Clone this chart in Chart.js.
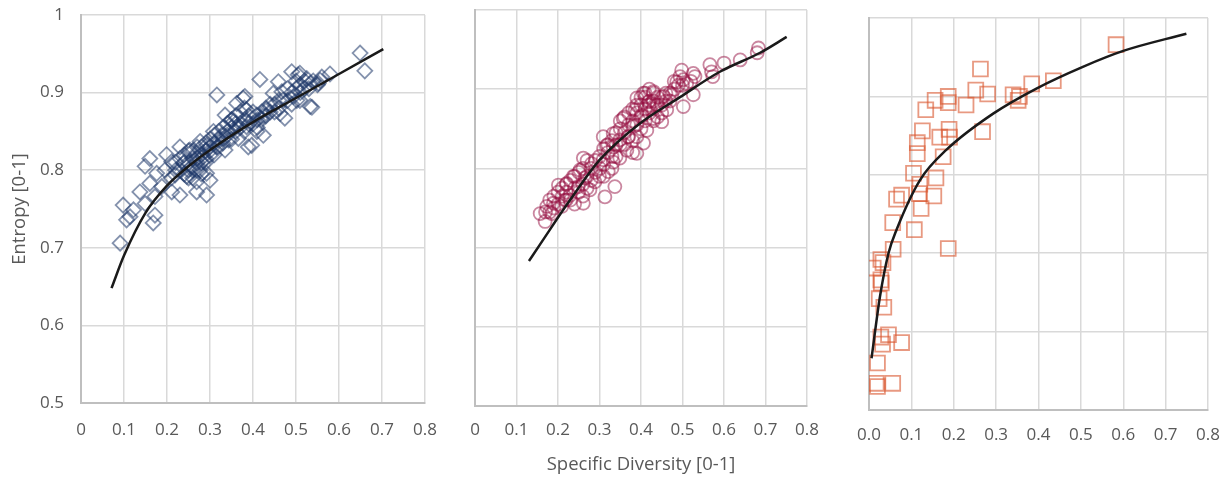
<!DOCTYPE html>
<html>
<head>
<meta charset="utf-8">
<script src="https://cdn.jsdelivr.net/npm/chart.js@4.4.1/dist/chart.umd.min.js"></script>
<style>
body{margin:0;background:#fff;width:1226px;height:478px;overflow:hidden;position:relative;}
.box{position:absolute;top:0;height:478px;}
</style>
</head>
<body>
<div class="box" style="left:0;width:445px"><canvas id="c1"></canvas></div>
<div class="box" style="left:445px;width:390px"><canvas id="c2"></canvas></div>
<div class="box" style="left:835px;width:391px"><canvas id="c3"></canvas></div>
<script>
// tick labels
var xLabelsA = ['0','0.1','0.2','0.3','0.4','0.5','0.6','0.7','0.8'];
var xLabelsB = ['0.0','0.1','0.2','0.3','0.4','0.5','0.6','0.7','0.8'];
var yLabels = ['0.5','0.6','0.7','0.8','0.9','1'];

// left panel - diamonds
var p1X = [0.649,0.660,0.579,0.556,0.537,0.533,0.490,0.505,0.502,0.525,0.474,0.459,0.416,0.316,0.509,0.552,
  0.381,0.362,0.447,0.467,0.494,0.509,0.533,0.385,0.409,0.432,0.463,0.335,0.350,0.362,0.385,0.409,0.424,0.397,
  0.308,0.327,0.343,0.366,0.277,0.292,0.316,0.335,0.230,0.253,0.269,0.284,0.300,0.199,0.160,0.149,0.211,0.238,
  0.257,0.277,0.292,0.176,0.195,0.219,0.246,0.269,0.300,0.160,0.137,0.188,0.211,0.230,0.269,0.292,0.172,0.149,
  0.098,0.122,0.114,0.172,0.168,0.106,0.091,0.389,0.377,0.424,
  0.25,0.26,0.27,0.28,0.29,0.30,0.31,0.32,0.33,0.34,0.35,0.36,0.37,0.38,0.39,0.40,0.41,0.42,0.43,0.44,0.45,
  0.46,0.48,0.49,0.50,0.51,0.52,0.53,0.55,0.26,0.28,0.29,0.24,0.22,0.25,0.27,
  0.21,0.22,0.23,0.23,0.24,0.24,0.25,0.25,0.26,0.26,0.27,0.27,0.28,0.28,0.29,0.29,0.30,0.30,0.31,0.31,0.32,
  0.32,0.33,0.33,0.34,0.34,0.35,0.35,0.36,0.36,0.37,0.37,0.38,0.38,0.39,0.40,0.41,0.42,0.43,0.44,0.45,0.46,
  0.47,0.48,0.49,0.50,0.51,0.52,0.54,0.56];
var p1Y = [0.951,0.928,0.924,0.916,0.881,0.912,0.927,0.923,0.890,0.918,0.867,0.914,0.917,0.897,0.925,0.912,
  0.895,0.886,0.899,0.901,0.895,0.890,0.882,0.878,0.871,0.878,0.873,0.871,0.865,0.856,0.856,0.850,0.845,0.832,
  0.850,0.845,0.839,0.841,0.837,0.832,0.830,0.826,0.830,0.826,0.822,0.817,0.819,0.820,0.815,0.805,0.811,0.809,
  0.805,0.800,0.796,0.796,0.800,0.794,0.792,0.785,0.787,0.783,0.772,0.779,0.772,0.768,0.772,0.768,0.766,0.757,
  0.755,0.749,0.740,0.742,0.732,0.736,0.706,0.830,0.893,0.870,
  0.800,0.815,0.810,0.820,0.825,0.830,0.835,0.840,0.840,0.850,0.855,0.860,0.860,0.865,0.870,0.860,0.865,0.875,
  0.880,0.875,0.885,0.890,0.890,0.900,0.905,0.910,0.915,0.905,0.910,0.790,0.795,0.810,0.810,0.800,0.825,0.830,
  0.790,0.810,0.800,0.815,0.795,0.820,0.810,0.790,0.800,0.825,0.815,0.800,0.810,0.830,0.815,0.835,0.825,0.840,
  0.820,0.845,0.830,0.850,0.835,0.855,0.845,0.860,0.840,0.865,0.850,0.870,0.855,0.875,0.850,0.880,0.860,0.875,
  0.855,0.865,0.870,0.885,0.875,0.880,0.890,0.905,0.885,0.915,0.900,0.905,0.915,0.920];
var fit1X = [0.071,0.10,0.15,0.20,0.25,0.30,0.40,0.50,0.60,0.703];
var fit1Y = [0.648,0.690,0.745,0.780,0.805,0.826,0.862,0.893,0.924,0.956];

// middle panel - circles
var p2X = [0.683,0.680,0.639,0.600,0.566,0.570,0.573,0.530,0.498,0.494,0.510,0.486,0.526,0.474,0.502,0.454,
  0.430,0.406,0.390,0.418,0.438,0.462,0.386,0.402,0.430,0.450,0.357,0.382,0.414,0.309,0.333,0.349,0.369,0.406,
  0.390,0.366,0.333,0.317,0.349,0.333,0.309,0.261,0.281,0.301,0.321,0.253,0.237,0.265,0.289,0.337,0.221,0.249,
  0.277,0.201,0.229,0.261,0.313,0.189,0.209,0.173,0.157,0.185,0.169,0.217,0.502,0.526,
  0.38,0.39,0.40,0.41,0.42,0.43,0.44,0.45,0.46,0.47,0.48,0.49,0.41,0.42,0.43,0.35,0.36,0.37,0.34,0.33,0.32,
  0.31,0.30,0.29,0.28,0.27,0.26,0.25,0.24,0.23,0.22,0.21,0.20,0.19,0.18,0.44,0.45,0.40,0.39,0.38,
  0.17,0.18,0.19,0.20,0.21,0.22,0.23,0.24,0.25,0.26,0.27,0.28,0.29,0.30,0.31,0.32,0.33,0.34,0.35,0.36,0.37,
  0.38,0.39,0.40,0.41,0.42,0.43,0.44,0.45,0.46,0.47,0.48,0.36,0.37,0.38,0.39,0.40,0.41,0.42,0.43,0.33,0.34,
  0.35,0.31,0.27,0.26,0.24,0.22,0.50,0.52];
var p2Y = [0.952,0.946,0.937,0.933,0.931,0.922,0.916,0.916,0.924,0.916,0.907,0.909,0.893,0.893,0.878,0.891,
  0.897,0.895,0.889,0.884,0.880,0.874,0.874,0.867,0.863,0.859,0.863,0.853,0.848,0.840,0.844,0.836,0.840,0.832,
  0.819,0.823,0.827,0.829,0.813,0.808,0.811,0.813,0.806,0.800,0.796,0.798,0.790,0.788,0.783,0.777,0.781,0.777,
  0.773,0.779,0.766,0.756,0.764,0.756,0.752,0.752,0.743,0.743,0.733,0.760,0.912,0.920,
  0.860,0.870,0.880,0.875,0.870,0.885,0.890,0.880,0.885,0.895,0.900,0.905,0.890,0.900,0.895,0.850,0.845,0.855,
  0.830,0.815,0.820,0.805,0.790,0.795,0.785,0.790,0.780,0.770,0.775,0.760,0.770,0.765,0.755,0.750,0.745,0.865,
  0.870,0.850,0.840,0.835,
  0.745,0.760,0.765,0.770,0.775,0.780,0.785,0.790,0.795,0.800,0.810,0.800,0.810,0.815,0.825,0.830,0.835,0.845,
  0.860,0.865,0.870,0.875,0.880,0.890,0.895,0.885,0.875,0.880,0.890,0.895,0.885,0.910,0.830,0.840,0.820,0.855,
  0.865,0.860,0.880,0.860,0.800,0.815,0.830,0.790,0.775,0.765,0.755,0.760,0.905,0.910];
var fit2X = [0.130,0.158,0.229,0.301,0.398,0.494,0.590,0.687,0.751];
var fit2Y = [0.683,0.705,0.760,0.811,0.857,0.890,0.922,0.946,0.966];

// right panel - squares
var p3X = [0.263,0.252,0.280,0.384,0.435,0.340,0.352,0.355,0.156,0.187,0.187,0.229,0.134,0.126,0.167,0.189,
  0.190,0.268,0.114,0.114,0.175,0.105,0.120,0.158,0.119,0.153,0.077,0.065,0.123,0.056,0.107,0.187,0.057,0.028,
  0.033,0.010,0.028,0.029,0.024,0.035,0.046,0.028,0.032,0.077,0.020,0.017,0.020,0.056,0.583];
var p3Y = [0.935,0.908,0.903,0.916,0.920,0.902,0.895,0.900,0.895,0.900,0.892,0.889,0.883,0.856,0.848,0.858,
  0.848,0.855,0.841,0.827,0.823,0.802,0.788,0.796,0.776,0.773,0.774,0.769,0.757,0.739,0.730,0.706,0.705,0.692,
  0.688,0.681,0.666,0.662,0.642,0.631,0.596,0.593,0.584,0.586,0.560,0.534,0.530,0.534,0.966];
var fit3X = [0.006,0.026,0.046,0.065,0.120,0.183,0.293,0.395,0.506,0.600,0.749];
var fit3Y = [0.566,0.645,0.700,0.730,0.793,0.832,0.878,0.910,0.938,0.958,0.980];

Chart.defaults.font.family = "'Open Sans', sans-serif";
Chart.defaults.color = '#595959';

function pts(xs, ys){
  var out = [];
  for(var i = 0; i < xs.length; i++){
    out.push({x: xs[i], y: ys[i]});
  }
  return out;
}

function makeChart(id, p){
  var ctx = document.getElementById(id).getContext('2d');
  return new Chart(ctx, {
    type: 'scatter',
    data: {
      datasets: [{
        data: pts(p.fitX, p.fitY),
        showLine: true,
        borderColor: '#1a1a1a',
        borderWidth: 2.5,
        pointRadius: 0,
        tension: 0.4,
        cubicInterpolationMode: 'monotone',
        order: 0
      }, {
        data: pts(p.xs, p.ys),
        pointStyle: p.style,
        pointRadius: p.radius,
        pointBorderColor: p.color,
        pointBackgroundColor: 'rgba(0,0,0,0)',
        pointBorderWidth: 1.8,
        order: 1
      }]
    },
    options: {
      animation: false,
      responsive: true,
      maintainAspectRatio: false,
      layout: { padding: { top: p.top, right: p.right, left: 0, bottom: 0 } },
      plugins: { legend: { display: false }, tooltip: { enabled: false } },
      scales: {
        x: {
          type: 'linear',
          min: 0, max: 0.8,
          // pin the plot box, labels may hang over the edges
          afterFit: function(s){ s.height = p.xh; s.paddingLeft = 0; s.paddingRight = 0; },
          grid: { color: '#d9d9d9', lineWidth: 1.5, drawTicks: false },
          border: { color: '#bfbfbf', width: 2 },
          ticks: {
            stepSize: 0.1, autoSkip: false, maxRotation: 0, padding: p.xpad,
            font: { size: 17 },
            callback: function(v, i){ return p.xLabels[i]; }
          },
          title: {
            display: !!p.xTitle, text: p.xTitle || '',
            font: { size: 18.5 }, padding: { top: 2, bottom: 2 }
          }
        },
        y: {
          type: 'linear',
          min: 0.5, max: 1,
          afterFit: function(s){ s.width = p.yw; s.paddingTop = 0; s.paddingBottom = 0; },
          grid: { color: '#d9d9d9', lineWidth: 1.5, drawTicks: false },
          border: { color: '#bfbfbf', width: 2 },
          ticks: {
            stepSize: 0.1, display: p.yTicks, padding: 17,
            font: { size: 17 },
            callback: function(v, i){ return yLabels[i]; }
          },
          title: {
            display: !!p.yTitle, text: p.yTitle || '',
            font: { size: 18.5 }, padding: { top: 9, bottom: 0 }
          }
        }
      }
    }
  });
}

makeChart('c1', {
  xs: p1X, ys: p1Y, fitX: fit1X, fitY: fit1Y,
  style: 'rectRot', radius: 7.5, color: 'rgba(31,56,105,0.55)',
  top: 15, right: 20, xh: 75, yw: 81, yTicks: true, xpad: 17,
  xLabels: xLabelsA, yTitle: 'Entropy [0-1]'
});
makeChart('c2', {
  xs: p2X, ys: p2Y, fitX: fit2X, fitY: fit2Y,
  style: 'circle', radius: 6.5, color: 'rgba(150,15,65,0.5)',
  top: 10, right: 28, xh: 72, yw: 30, yTicks: false, xpad: 14,
  xLabels: xLabelsA, xTitle: 'Specific Diversity [0-1]'
});
makeChart('c3', {
  xs: p3X, ys: p3Y, fitX: fit3X, fitY: fit3Y,
  style: 'rect', radius: 10.5, color: 'rgba(217,85,45,0.6)',
  top: 18, right: 18, xh: 68, yw: 34, yTicks: false, xpad: 15,
  xLabels: xLabelsB
});
</script>
</body>
</html>
